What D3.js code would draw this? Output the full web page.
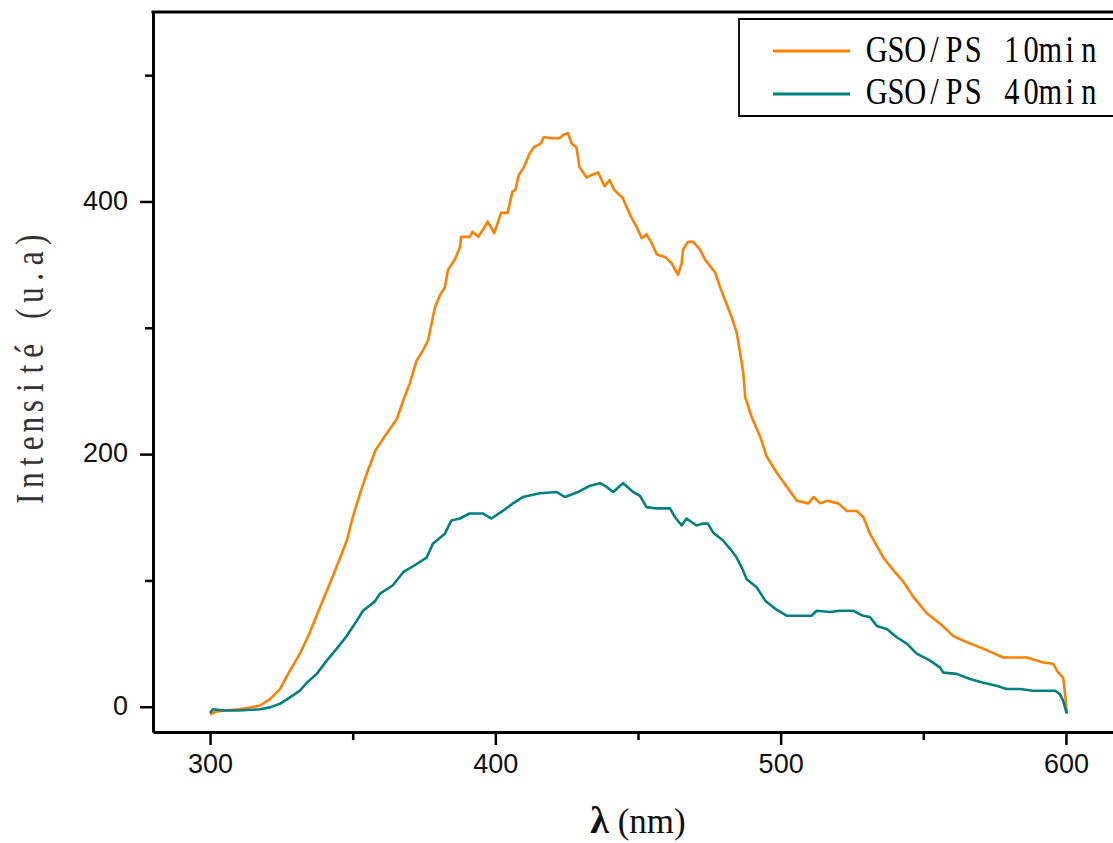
<!DOCTYPE html>
<html>
<head>
<meta charset="utf-8">
<script src="https://cdn.jsdelivr.net/npm/d3@7/dist/d3.min.js"></script>
<style>
  html, body { margin: 0; padding: 0; background: #fff; overflow: hidden; }
  svg { display: block; }
</style>
</head>
<body>
<svg id="chart" width="1113" height="843"></svg>
<script>
// ---------------- DATA ----------------
const seriesNames = ["GSO/PS 10min", "GSO/PS 40min"];
const seriesColors = ["#FF8000", "#008080"];

const wl10 = [300,302,305,310,313,317.5,321,324.5,328,331.5,335,338.5,342,345.6,348,350,352.6,355,358,361.5,
  365.5,367.8,370,372.4,374.6,376.4,377.7,378.8,380.6,382.3,383.4,385.8,387.6,388,391,392,394,396,397.3,399.6,
  402,404.3,406,407,408.2,410,412,413.5,416,417,419.5,422.4,424,425.5,426.7,428.4,429.5,432,433.8,436,
  438.3,440,441.7,444.6,447.5,449.5,451.3,453,454.8,456.6,459.5,461.8,464,465.3,465.8,467.5,469.3,471.7,473.5,477,
  478.8,480.5,482.9,484.6,485.8,486.9,487.6,489.9,492.8,495.1,498.7,502.2,505.7,509.7,511.5,513.9,516.2,520.2,523.2,526.7,
  529,531.3,536,539.5,543,546.5,551.2,555.8,560.5,565.3,571,578,586.3,592,595.5,597.3,599,599.7,600.3];
const int10 = [-6,-4,-3,-2,-1,1,6,14,28.5,42,59,78.5,97.5,118,132,150,169,185,203,215,
  228,243,256,274,282,290,304,316,326,332,346,354,364,372,372,376,372,379,384,375,
  391,391,408,409,421,427,438,443,446,451,450,450,453,454,446,443,427,419,421,423,
  412,417,409,403,388,380,371,374,367,358,356,351,342,351,362,368,368,362,354,344,
  332,322,308,296,280,264,245,229,214,198,185,174,163,161,166,161,163,161,155,155,
  150,137,118,108,99,87,74,66,56,51,46,39,39,35,34,27,23,10,-5];

const wl40 = [300,301,305,310,317.5,321,324.5,328,331.5,333.9,337.4,340.9,344.4,347.9,351.4,353.6,357.6,359.6,364,367.7,
  372.4,375.9,378.1,382.3,384.6,387.6,391,395.6,398.6,402.6,406.2,409.6,415.6,421.5,424.4,429,433.2,436.7,439,441.3,
  444.8,448.3,450.7,453,456.6,461.2,463,465.3,467,470.5,472.8,474.5,476.3,479.8,482.3,484.6,486.4,488.1,491.6,494.6,
  498,502.2,506.8,510.8,512.6,517.3,520.8,525.4,528.9,531.3,533.7,537.2,540.7,544.2,547.7,552.4,555.9,557,561.7,566.4,
  571,575.7,579.2,583.9,588.5,593.3,596.2,597.9,599,600.3];
const int40 = [-5,-2,-3,-3,-2,-0.5,2.3,7.4,12.7,19,26,36.5,46,56,68,76,83,89.6,96,106.5,
  113,118,129,137,147.5,149,153,153,149,155,161,166,169,170,166,170,175,177,174,170,
  177,170,167,158,157,157,150,143.5,149,143.5,145,145,138,131.6,125,118,110,101,94.6,84,
  77.7,72,72,72,76,75,76,76,72,71,64,61.6,55,50,42,36.5,31,27,26,22,
  19,16.6,14,14,12.7,12.7,12.7,10,4.8,-5.5];

const xTicks = [300, 400, 500, 600];
const xMinorTicks = [350, 450, 550];
const yTicks = [0, 200, 400];
const yMinorTicks = [100, 300, 500];
const xLabel = ["λ", " (nm)"];
const yLabel = "Intensité (u.a)";

// ---------------- LAYOUT ----------------
const svg = d3.select("#chart");
const mLeft = 153, mRight = 1123, mTop = 12, mBottom = 732;
const x = d3.scaleLinear().domain([280, 620]).range([mLeft, mRight]);
const y = d3.scaleLinear().domain([-20, 550]).range([mBottom, mTop]);

svg.append("rect").attr("width", 1113).attr("height", 843).attr("fill", "#fff");

// curves
const series = [
  { name: seriesNames[0], color: seriesColors[0], data: wl10.map((w, i) => [w, int10[i]]) },
  { name: seriesNames[1], color: seriesColors[1], data: wl40.map((w, i) => [w, int40[i]]) }
];
const line = d3.line().x(d => x(d[0])).y(d => y(d[1]));
svg.append("g").selectAll("path").data(series).join("path")
  .attr("d", d => line(d.data))
  .attr("fill", "none")
  .attr("stroke", d => d.color)
  .attr("stroke-width", 2.6)
  .attr("stroke-linejoin", "round");

// axes
const axisFont = "'Liberation Sans', Arial, sans-serif";
const gx = svg.append("g").attr("transform", `translate(0,${mBottom})`)
  .call(d3.axisBottom(x).tickValues(xTicks).tickSize(13).tickSizeOuter(0).tickPadding(9).tickFormat(d3.format("d")));
const gxm = svg.append("g").attr("transform", `translate(0,${mBottom})`)
  .call(d3.axisBottom(x).tickValues(xMinorTicks).tickSize(8).tickSizeOuter(0).tickFormat(""));
gxm.select(".domain").remove();

const gy = svg.append("g").attr("transform", `translate(${mLeft},0)`)
  .call(d3.axisLeft(y).tickValues(yTicks).tickSize(13).tickSizeOuter(0).tickPadding(12).tickFormat(d3.format("d")));
const gym = svg.append("g").attr("transform", `translate(${mLeft},0)`)
  .call(d3.axisLeft(y).tickValues(yMinorTicks).tickSize(8).tickSizeOuter(0).tickFormat(""));
gym.select(".domain").remove();

[gx, gxm, gy, gym].forEach(g => {
  g.selectAll(".domain").attr("stroke", "#000").attr("stroke-width", 3);
  g.selectAll(".tick line").attr("stroke", "#000").attr("stroke-width", 2.5);
  g.selectAll(".tick text").attr("font-family", axisFont).attr("font-size", 27).attr("fill", "#111");
});
gy.selectAll(".tick text").attr("dy", "0.28em");
gx.selectAll(".tick text").attr("dy", "0.72em");

// top / right frame
svg.append("line").attr("x1", mLeft - 1.5).attr("x2", mRight).attr("y1", mTop).attr("y2", mTop)
  .attr("stroke", "#000").attr("stroke-width", 3);
svg.append("line").attr("x1", mRight).attr("x2", mRight).attr("y1", mTop).attr("y2", mBottom)
  .attr("stroke", "#000").attr("stroke-width", 3);

// monospaced serif text (each character in a fixed-width cell, glyphs condensed)
const serifFont = "'Liberation Serif', 'Times New Roman', serif";
function monoText(parent, str, transform, pitch, fontSize, sx, fill) {
  const g = parent.append("g").attr("transform", transform + ` scale(${sx},1)`);
  const t = g.append("text")
    .attr("font-family", serifFont).attr("font-size", fontSize).attr("fill", fill)
    .attr("text-anchor", "middle");
  Array.from(str).forEach((ch, i) => {
    t.append("tspan").attr("x", (pitch * (i + 0.5)) / sx).attr("y", 0).text(ch === " " ? "\u00a0" : ch);
  });
  return t;
}

// y axis title (rotated, reading bottom to top)
monoText(svg, yLabel, "translate(43,508) rotate(-90)", 18.5, 39, 0.8, "#333");

// x axis title
const xt = svg.append("text")
  .attr("x", 638).attr("y", 833).attr("text-anchor", "middle")
  .attr("font-family", serifFont).attr("font-size", 35).attr("fill", "#111");
xt.append("tspan").attr("font-size", 38).attr("font-weight", "bold").text(xLabel[0]);
xt.append("tspan").text(xLabel[1]);

// legend (right side runs past the picture edge, as in the reference)
const lg = svg.append("g");
lg.append("rect").attr("x", 739).attr("y", 19).attr("width", 373).attr("height", 97).attr("fill", "#fff");
lg.append("path").attr("d", "M1113,19 H739 V116 H1113")
  .attr("fill", "none").attr("stroke", "#000").attr("stroke-width", 1.8);
const legRows = [51, 94];
const legBase = [62, 104];
series.forEach((s, i) => {
  lg.append("line").attr("x1", 773).attr("x2", 850).attr("y1", legRows[i]).attr("y2", legRows[i])
    .attr("stroke", s.color).attr("stroke-width", 3);
  monoText(lg, s.name, `translate(867,${legBase[i]})`, 19.3, 38, 0.8, "#000");
});
</script>
</body>
</html>
